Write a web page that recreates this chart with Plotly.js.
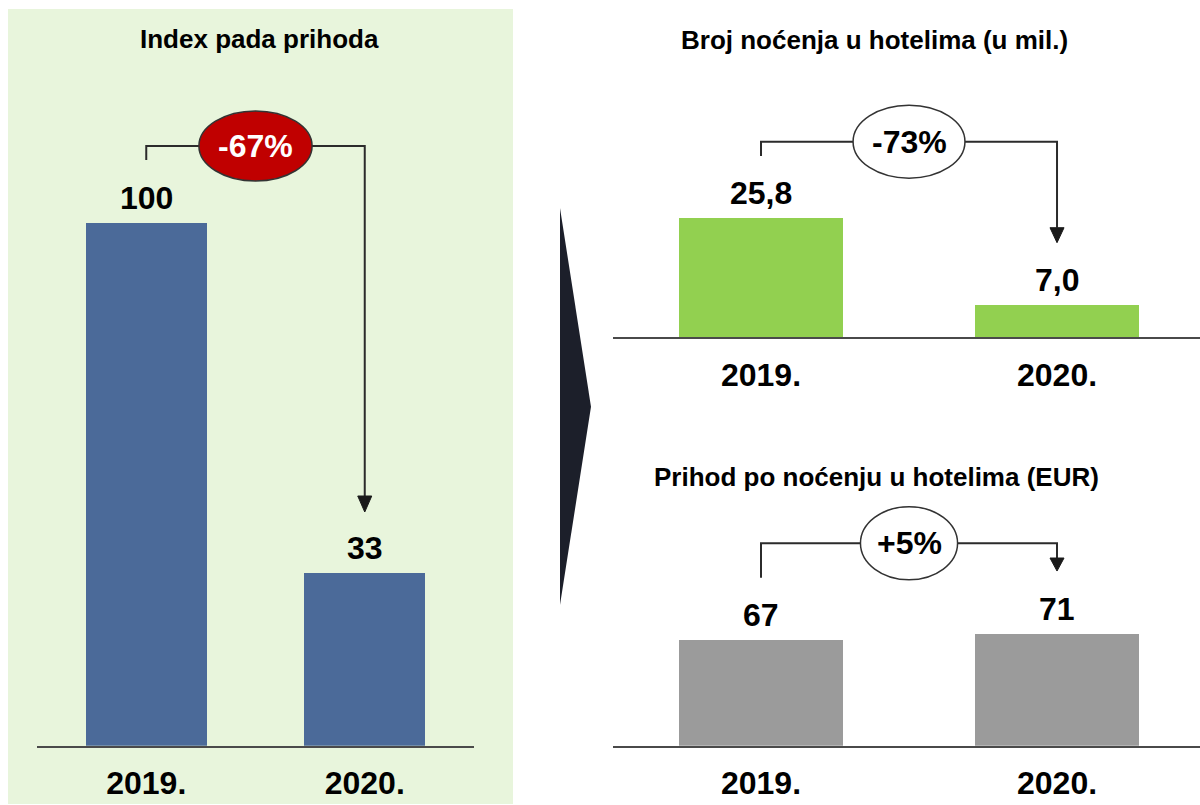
<!DOCTYPE html>
<html>
<head>
<meta charset="utf-8">
<script src="https://cdn.plot.ly/plotly-3.0.1.min.js"></script>
<style>html,body{margin:0;padding:0;background:#fff;}#chart{width:1200px;height:805px;}</style>
</head>
<body>
<div id="chart"></div>
<script>
// ---- data ----
const years = ['2019.', '2020.'];
const indexValues = [100, 33];
const nightsValues = [25.8, 7.0];
const revenueValues = [67, 71];
const changeLabels = ['-67%', '-73%', '+5%'];
const titles = ['Index pada prihoda', 'Broj noćenja u hotelima (u mil.)', 'Prihod po noćenju u hotelima (EUR)'];

const W = 1200, H = 805;
const FONT = 'Liberation Sans, Arial, sans-serif';
const px = x => x / W;
const py = y => 1 - y / H;
const xs = years.map((_, i) => i);
const fmtComma = v => v.toFixed(1).replace('.', ',');

const traces = [
  {type: 'bar', x: xs, y: indexValues, xaxis: 'x', yaxis: 'y', width: 0.555,
   marker: {color: '#4B6A99', line: {width: 0}}, hoverinfo: 'skip'},
  {type: 'bar', x: xs, y: nightsValues, xaxis: 'x2', yaxis: 'y2', width: 0.555,
   marker: {color: '#92D050', line: {width: 0}}, hoverinfo: 'skip'},
  {type: 'bar', x: xs, y: revenueValues, xaxis: 'x3', yaxis: 'y3', width: 0.555,
   marker: {color: '#9B9B9B', line: {width: 0}}, hoverinfo: 'skip'}
];

function xAxis(domain, range, anchor) {
  return {domain: domain, range: range, anchor: anchor, tickvals: xs, ticktext: years,
    showline: true, linecolor: '#4a4a4a', linewidth: 2, showgrid: false, zeroline: false,
    ticks: '', ticklabelstandoff: 8, fixedrange: true,
    tickfont: {family: FONT, size: 32, weight: 'bold', color: '#000'}};
}
function yAxis(domain, range, anchor) {
  return {domain: domain, range: range, anchor: anchor, showline: false, showgrid: false,
    zeroline: false, showticklabels: false, ticks: '', fixedrange: true};
}

const annotations = [];
const shapes = [];

// background of left panel
shapes.push({type: 'rect', xref: 'paper', yref: 'paper', x0: px(8), x1: px(513), y0: py(804), y1: py(9),
  fillcolor: '#E8F5DC', line: {width: 0}, layer: 'below'});
// dark separator triangle
shapes.push({type: 'path', xref: 'paper', yref: 'paper',
  path: `M${px(560)},${py(208)} L${px(591)},${py(406.7)} L${px(560)},${py(605)} Z`,
  fillcolor: '#1C1F2A', line: {width: 0}});

// titles
const titlePos = [[259, 39], [874.5, 40], [876, 477]];
titles.forEach((t, i) => annotations.push({text: t, xref: 'paper', yref: 'paper',
  x: px(titlePos[i][0]), y: py(titlePos[i][1]), xanchor: 'center', yanchor: 'middle', showarrow: false,
  font: {family: FONT, size: 26, weight: 'bold', color: '#000'}}));

// value labels
const panels = [
  {vals: indexValues, fmt: v => String(v), xr: 'x', yr: 'y'},
  {vals: nightsValues, fmt: fmtComma, xr: 'x2', yr: 'y2'},
  {vals: revenueValues, fmt: v => String(v), xr: 'x3', yr: 'y3'}
];
panels.forEach(p => p.vals.forEach((v, i) => annotations.push({text: p.fmt(v), xref: p.xr, yref: p.yr,
  x: i, y: v, yanchor: 'middle', yshift: 25, showarrow: false,
  font: {family: FONT, size: 32, weight: 'bold', color: '#000'}})));

// change brackets: [xref, yref, lineY, startY, tipY, headH, headHalfW, rx, ry, fill, textColor]
const brackets = [
  ['x', 'y', 114.73, 112.05, 44.71, 3.06, 0.0321, 0.259, 6.70, '#C00000', '#fff'],
  ['x2', 'y2', 42.41, 39.31, 20.51, 3.25, 0.0237, 0.189, 7.91, '#fff', '#000'],
  ['x3', 'y3', 128.3, 106.5, 110.7, 8.24, 0.0237, 0.164, 23.14, '#fff', '#000']
];
brackets.forEach((b, i) => {
  const [xr, yr, ly, sy, ty, hh, hw, rx, ry, fill, tc] = b;
  shapes.push({type: 'path', xref: xr, yref: yr,
    path: `M0,${sy} L0,${ly} L1,${ly} L1,${ty + hh}`,
    line: {color: '#2b2b2b', width: 2}});
  shapes.push({type: 'path', xref: xr, yref: yr,
    path: `M${1 - hw},${ty + hh} L${1 + hw},${ty + hh} L1,${ty} Z`,
    fillcolor: '#1a1a1a', line: {color: '#1a1a1a', width: 1}});
  shapes.push({type: 'circle', xref: xr, yref: yr, x0: 0.5 - rx, x1: 0.5 + rx, y0: ly - ry, y1: ly + ry,
    fillcolor: fill, line: {color: '#333', width: 1.5}});
  annotations.push({text: changeLabels[i], xref: xr, yref: yr, x: 0.5, y: ly, showarrow: false,
    xanchor: 'center', yanchor: 'middle',
    font: {family: FONT, size: 32, weight: 'bold', color: tc}});
});

const layout = {
  width: W, height: H, margin: {l: 0, r: 0, t: 0, b: 0},
  paper_bgcolor: '#fff', plot_bgcolor: 'rgba(0,0,0,0)', showlegend: false, bargap: 0,
  xaxis: xAxis([px(37), px(474)], [-0.5, 1.5], 'y'),
  yaxis: yAxis([py(745.7), 1], [0, 142.66], 'x'),
  xaxis2: xAxis([px(613), 1], [-0.5, 1.483], 'y2'),
  yaxis2: yAxis([py(337.3), 1], [0, 73.13], 'x2'),
  xaxis3: xAxis([px(613), 1], [-0.5, 1.483], 'y3'),
  yaxis3: yAxis([py(745.7), py(400)], [0, 219.1], 'x3'),
  shapes: shapes, annotations: annotations
};

Plotly.newPlot('chart', traces, layout, {displayModeBar: false, staticPlot: true});
</script>
</body>
</html>
